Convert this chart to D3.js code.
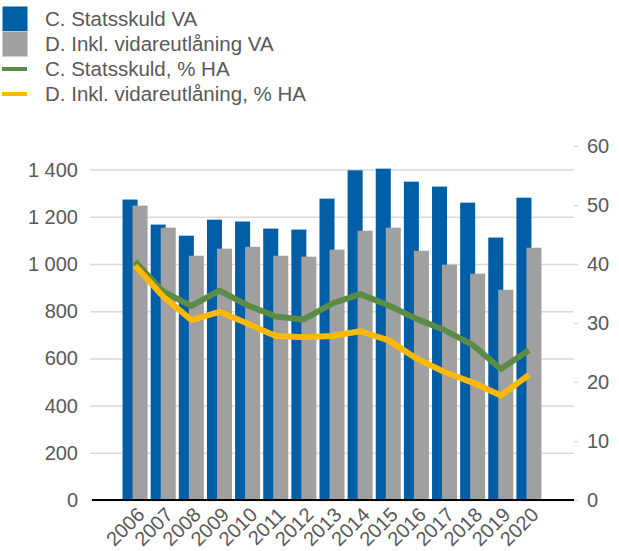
<!DOCTYPE html>
<html>
<head>
<meta charset="utf-8">
<script src="https://cdn.jsdelivr.net/npm/d3@7"></script>
<style>
  body { margin: 0; background: #fff; }
  svg text { font-family: "Liberation Sans", Arial, sans-serif; fill: #595959; }
</style>
</head>
<body>
<svg id="chart"></svg>
<script>
let size = {width: 619, height: 551}

// data
const years = ['2006', '2007', '2008', '2009', '2010', '2011', '2012', '2013', '2014', '2015', '2016', '2017', '2018', '2019', '2020']
const statsskuldVA = [1273, 1167, 1120, 1188, 1180, 1150, 1146, 1277, 1397, 1404, 1349, 1328, 1260, 1112, 1281]
const vidareVA = [1247, 1154, 1035, 1065, 1073, 1035, 1031, 1061, 1141, 1154, 1056, 997, 959, 891, 1069]
const statsskuldHA = [40.4, 35.3, 32.9, 35.5, 33.0, 31.1, 30.6, 33.3, 34.9, 33.0, 30.7, 28.8, 26.3, 22.2, 25.4]
const vidareHA = [39.7, 34.5, 30.5, 31.9, 29.9, 27.8, 27.6, 27.8, 28.6, 27.1, 24.0, 21.7, 19.9, 17.7, 21.2]
const leftTicks = [0, 200, 400, 600, 800, 1000, 1200, 1400]
const rightTicks = [0, 10, 20, 30, 40, 50, 60]
const legendItems = [
    {label: 'C. Statsskuld VA', color: '#005EA6', type: 'box'},
    {label: 'D. Inkl. vidareutlåning VA', color: '#A0A0A0', type: 'box'},
    {label: 'C. Statsskuld, % HA', color: '#5B8C45', type: 'line'},
    {label: 'D. Inkl. vidareutlåning, % HA', color: '#FFB900', type: 'line'}
]

const plot = {left: 90, right: 574, top: 146, bottom: 500}

const svg = d3.select('#chart')
    .attr('width', size.width)
    .attr('height', size.height)

const xScale = d3.scaleBand()
    .domain(years)
    .range([121, 543])
    .paddingInner(0.11)
    .paddingOuter(0.055)

const yLeft = d3.scaleLinear().domain([0, 1500]).range([plot.bottom, plot.top])
const yRight = d3.scaleLinear().domain([0, 60]).range([plot.bottom, plot.top])

const fmt = d3.formatLocale({decimal: ',', thousands: ' ', grouping: [3], currency: ['', '']}).format(',')

// left axis + gridlines
const leftAxisG = svg.append('g')
    .attr('transform', `translate(${plot.left},0)`)
    .call(d3.axisLeft(yLeft)
        .tickValues(leftTicks)
        .tickSize(-(plot.right - plot.left))
        .tickPadding(12)
        .tickFormat(fmt))
leftAxisG.select('.domain').remove()
leftAxisG.selectAll('.tick line').attr('stroke', '#D9D9D9').attr('stroke-width', 1.5)
leftAxisG.selectAll('.tick text').attr('font-size', 20)

// right axis
const rightAxisG = svg.append('g')
    .attr('transform', `translate(${plot.right},0)`)
    .call(d3.axisRight(yRight)
        .tickValues(rightTicks)
        .tickSize(4)
        .tickPadding(9))
rightAxisG.select('.domain').remove()
rightAxisG.selectAll('.tick line').attr('stroke', '#D9D9D9').attr('stroke-width', 1.5)
rightAxisG.selectAll('.tick text').attr('font-size', 20)

// bars
const bw = xScale.bandwidth()
const barW = bw * 0.6

svg.append('g').selectAll('rect')
    .data(years)
    .join('rect')
    .attr('x', d => xScale(d))
    .attr('y', (d, i) => yLeft(statsskuldVA[i]))
    .attr('width', barW)
    .attr('height', (d, i) => yLeft(0) - yLeft(statsskuldVA[i]))
    .attr('fill', '#005EA6')

svg.append('g').selectAll('rect')
    .data(years)
    .join('rect')
    .attr('x', d => xScale(d) + bw - barW)
    .attr('y', (d, i) => yLeft(vidareVA[i]))
    .attr('width', barW)
    .attr('height', (d, i) => yLeft(0) - yLeft(vidareVA[i]))
    .attr('fill', '#A0A0A0')

// zero line
svg.append('line')
    .attr('x1', 92).attr('x2', plot.right)
    .attr('y1', yLeft(0)).attr('y2', yLeft(0))
    .attr('stroke', '#000').attr('stroke-width', 2)

// lines
const line = d3.line()
    .x(d => xScale(d[0]) + bw / 2)
    .y(d => yRight(d[1]))

svg.append('path')
    .datum(years.map((y, i) => [y, statsskuldHA[i]]))
    .attr('d', line)
    .attr('fill', 'none')
    .attr('stroke', '#5B8C45')
    .attr('stroke-width', 6)
    .attr('stroke-linejoin', 'round')

svg.append('path')
    .datum(years.map((y, i) => [y, vidareHA[i]]))
    .attr('d', line)
    .attr('fill', 'none')
    .attr('stroke', '#FFB900')
    .attr('stroke-width', 6)
    .attr('stroke-linejoin', 'round')

// x labels
svg.append('g').selectAll('text')
    .data(years)
    .join('text')
    .attr('transform', d => `translate(${xScale(d) + bw / 2 + 1},${plot.bottom + 6}) rotate(-45)`)
    .attr('text-anchor', 'end')
    .attr('dy', '0.7em')
    .attr('font-size', 20)
    .text(d => d)

// legend
const legend = svg.append('g')
legendItems.forEach((item, i) => {
    const cy = 19 + i * 25
    if (item.type === 'box') {
        legend.append('rect')
            .attr('x', 2.5).attr('y', cy - 12.5)
            .attr('width', 25).attr('height', 25)
            .attr('fill', item.color)
            .attr('stroke', i === 1 ? '#D0D0D0' : 'none')
            .attr('stroke-width', 0.8)
    } else {
        legend.append('line')
            .attr('x1', 2).attr('x2', 27)
            .attr('y1', cy).attr('y2', cy)
            .attr('stroke', item.color)
            .attr('stroke-width', 4)
    }
    legend.append('text')
        .attr('x', 45).attr('y', cy)
        .attr('dy', '0.35em')
        .attr('font-size', 20.5)
        .text(item.label)
})
</script>
</body>
</html>
